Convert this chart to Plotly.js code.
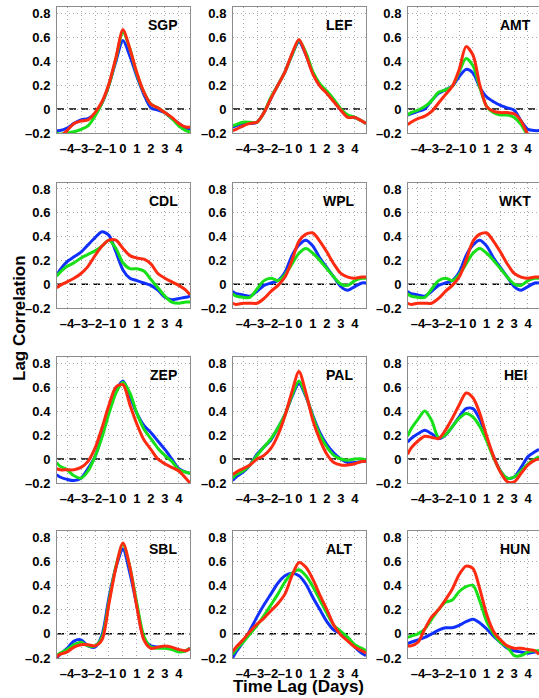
<!DOCTYPE html>
<html><head><meta charset="utf-8">
<script src="https://cdn.plot.ly/plotly-3.0.1.min.js"></script>
<style>html,body{margin:0;padding:0;background:#fff;overflow:hidden}</style>
</head><body><div id="chart" style="width:539px;height:698px"></div>
<script>
const lags = [-4.75,-4.5,-4,-3.5,-3,-2.5,-2,-1.5,-1,-0.5,0,0.5,1,1.5,2,2.5,3,3.5,4,4.5,4.8];
const stations = ["SGP","LEF","AMT","CDL","WPL","WKT","ZEP","PAL","HEI","SBL","ALT","HUN"];
const xTickVals = [-4,-3,-2,-1,0,1,2,3,4];
const xTickText = ["\u20134","\u20133","\u20132","\u20131","0","1","2","3","4"];
const yTickVals = [-0.2,0,0.2,0.4,0.6,0.8];
const yTickText = ["\u20130.2","0","0.2","0.4","0.6","0.8"];

const SGP_blue  = [-0.18,-0.18,-0.16,-0.12,-0.09,-0.08,-0.04,0.05,0.2,0.4,0.57,0.44,0.27,0.12,0.01,-0.01,-0.03,-0.08,-0.12,-0.16,-0.17];
const SGP_green = [-0.2,-0.21,-0.2,-0.19,-0.17,-0.14,-0.06,0.05,0.2,0.42,0.64,0.5,0.29,0.14,0.04,0.01,-0.03,-0.08,-0.14,-0.18,-0.19];
const SGP_red   = [-0.25,-0.23,-0.18,-0.12,-0.1,-0.09,-0.03,0.06,0.21,0.43,0.66,0.5,0.3,0.14,0.04,0.01,-0.03,-0.07,-0.12,-0.15,-0.15];

const LEF_blue  = [-0.15,-0.14,-0.12,-0.12,-0.11,-0.03,0.09,0.2,0.31,0.45,0.56,0.45,0.3,0.2,0.14,0.07,-0.01,-0.06,-0.07,-0.1,-0.12];
const LEF_green = [-0.14,-0.13,-0.11,-0.11,-0.11,-0.03,0.1,0.2,0.31,0.45,0.57,0.47,0.31,0.21,0.15,0.08,0.0,-0.05,-0.07,-0.1,-0.12];
const LEF_red   = [-0.18,-0.17,-0.14,-0.12,-0.11,-0.03,0.09,0.2,0.31,0.46,0.58,0.45,0.29,0.19,0.13,0.06,-0.01,-0.07,-0.07,-0.1,-0.12];

const AMT_blue  = [-0.05,-0.04,-0.02,0.0,0.07,0.13,0.16,0.19,0.27,0.33,0.3,0.18,0.1,0.06,0.03,0.01,-0.01,-0.1,-0.17,-0.18,-0.18];
const AMT_green = [-0.05,-0.03,-0.01,0.02,0.07,0.14,0.16,0.19,0.31,0.42,0.36,0.18,0.02,-0.03,-0.05,-0.05,-0.07,-0.13,-0.22,-0.26,-0.28];
const AMT_red   = [-0.13,-0.11,-0.08,-0.06,-0.02,0.05,0.12,0.19,0.33,0.52,0.45,0.2,0.02,-0.02,-0.03,-0.03,-0.04,-0.1,-0.21,-0.26,-0.28];

const CDL_blue  = [0.07,0.12,0.19,0.23,0.27,0.33,0.39,0.44,0.41,0.27,0.12,0.05,0.03,0.01,-0.01,-0.05,-0.11,-0.13,-0.12,-0.11,-0.1];
const CDL_green = [0.07,0.1,0.15,0.18,0.22,0.25,0.28,0.32,0.37,0.3,0.18,0.13,0.13,0.11,0.04,-0.03,-0.1,-0.15,-0.16,-0.15,-0.15];
const CDL_red   = [-0.03,-0.01,0.02,0.05,0.09,0.15,0.24,0.32,0.37,0.37,0.3,0.24,0.22,0.21,0.17,0.09,0.05,0.02,-0.01,-0.05,-0.09];

const WPL_blue  = [-0.06,-0.08,-0.09,-0.1,-0.06,-0.01,0.01,0.03,0.1,0.24,0.33,0.37,0.32,0.22,0.14,0.06,-0.02,-0.05,-0.02,0.01,0.01];
const WPL_green = [-0.08,-0.1,-0.11,-0.11,-0.04,0.03,0.05,0.03,0.08,0.17,0.26,0.3,0.26,0.2,0.13,0.06,0.0,-0.01,0.03,0.05,0.05];
const WPL_red   = [-0.16,-0.17,-0.16,-0.16,-0.16,-0.12,-0.06,-0.01,0.06,0.2,0.36,0.42,0.43,0.36,0.27,0.17,0.09,0.06,0.05,0.06,0.06];

const WKT_blue  = [-0.06,-0.08,-0.09,-0.1,-0.06,-0.01,0.01,0.03,0.1,0.24,0.33,0.37,0.32,0.22,0.14,0.06,-0.02,-0.05,-0.02,0.01,0.01];
const WKT_green = [-0.08,-0.1,-0.11,-0.11,-0.04,0.03,0.05,0.03,0.08,0.17,0.26,0.3,0.26,0.2,0.13,0.06,0.0,-0.01,0.03,0.05,0.05];
const WKT_red   = [-0.16,-0.17,-0.16,-0.16,-0.16,-0.12,-0.06,-0.01,0.06,0.2,0.36,0.42,0.43,0.36,0.27,0.17,0.09,0.06,0.05,0.06,0.06];

const ZEP_blue  = [-0.13,-0.15,-0.17,-0.18,-0.16,-0.08,0.02,0.2,0.4,0.57,0.65,0.52,0.38,0.28,0.22,0.15,0.08,0.0,-0.08,-0.11,-0.12];
const ZEP_green = [-0.03,-0.06,-0.09,-0.14,-0.16,-0.1,0.02,0.18,0.38,0.55,0.64,0.55,0.38,0.25,0.17,0.09,0.03,-0.02,-0.09,-0.11,-0.12];
const ZEP_red   = [-0.08,-0.09,-0.09,-0.09,-0.07,-0.02,0.09,0.26,0.45,0.6,0.62,0.45,0.29,0.16,0.08,0.0,-0.04,-0.07,-0.1,-0.16,-0.2];

const PAL_blue  = [-0.18,-0.15,-0.11,-0.05,0.04,0.1,0.16,0.26,0.37,0.52,0.63,0.52,0.36,0.22,0.12,0.05,0.0,-0.03,-0.03,-0.02,-0.02];
const PAL_green = [-0.16,-0.13,-0.1,-0.05,0.03,0.1,0.17,0.26,0.37,0.53,0.65,0.53,0.35,0.2,0.1,0.03,0.0,-0.01,0.0,0.0,-0.01];
const PAL_red   = [-0.13,-0.11,-0.08,-0.05,0.0,0.03,0.09,0.2,0.36,0.56,0.73,0.55,0.32,0.16,0.04,-0.03,-0.05,-0.05,-0.04,-0.02,-0.02];

const HEI_blue  = [0.14,0.17,0.21,0.24,0.21,0.17,0.2,0.27,0.35,0.42,0.42,0.33,0.17,0.02,-0.1,-0.16,-0.15,-0.07,0.02,0.06,0.08];
const HEI_green = [0.19,0.25,0.33,0.4,0.32,0.18,0.2,0.27,0.34,0.38,0.35,0.27,0.15,0.01,-0.1,-0.16,-0.15,-0.1,-0.04,0.0,0.02];
const HEI_red   = [0.04,0.09,0.15,0.19,0.18,0.17,0.24,0.34,0.45,0.55,0.51,0.38,0.19,0.02,-0.11,-0.19,-0.19,-0.12,-0.05,-0.01,0.0];

const SBL_blue  = [-0.2,-0.17,-0.12,-0.06,-0.05,-0.1,-0.11,-0.01,0.3,0.55,0.7,0.5,0.23,-0.04,-0.1,-0.11,-0.11,-0.12,-0.14,-0.14,-0.12];
const SBL_green = [-0.18,-0.16,-0.13,-0.09,-0.07,-0.1,-0.1,-0.03,0.27,0.56,0.74,0.55,0.25,-0.02,-0.11,-0.12,-0.12,-0.13,-0.15,-0.14,-0.12];
const SBL_red   = [-0.19,-0.17,-0.15,-0.11,-0.09,-0.09,-0.1,-0.05,0.25,0.55,0.75,0.55,0.22,-0.05,-0.12,-0.11,-0.1,-0.11,-0.13,-0.14,-0.12];

const ALT_blue  = [-0.2,-0.15,-0.07,0.03,0.14,0.24,0.33,0.42,0.48,0.5,0.48,0.41,0.3,0.2,0.1,0.03,0.0,-0.05,-0.11,-0.16,-0.18];
const ALT_green = [-0.17,-0.13,-0.07,0.0,0.07,0.15,0.24,0.33,0.43,0.5,0.53,0.48,0.39,0.28,0.17,0.07,0.02,-0.03,-0.09,-0.12,-0.14];
const ALT_red   = [-0.15,-0.11,-0.05,0.02,0.08,0.13,0.19,0.25,0.33,0.48,0.59,0.55,0.45,0.32,0.2,0.07,-0.01,-0.06,-0.11,-0.14,-0.16];

const HUN_blue  = [-0.08,-0.07,-0.05,-0.03,0.0,0.03,0.05,0.05,0.07,0.1,0.12,0.09,0.04,-0.02,-0.07,-0.12,-0.14,-0.15,-0.16,-0.15,-0.15];
const HUN_green = [-0.03,-0.02,0.0,0.04,0.12,0.2,0.26,0.28,0.35,0.39,0.4,0.27,0.1,0.0,-0.07,-0.11,-0.18,-0.18,-0.15,-0.14,-0.14];
const HUN_red   = [-0.1,-0.1,-0.07,0.04,0.14,0.2,0.28,0.37,0.49,0.56,0.54,0.37,0.16,0.02,-0.05,-0.1,-0.12,-0.12,-0.13,-0.14,-0.17];

const series = {
  SGP:[SGP_blue,SGP_green,SGP_red], LEF:[LEF_blue,LEF_green,LEF_red], AMT:[AMT_blue,AMT_green,AMT_red],
  CDL:[CDL_blue,CDL_green,CDL_red], WPL:[WPL_blue,WPL_green,WPL_red], WKT:[WKT_blue,WKT_green,WKT_red],
  ZEP:[ZEP_blue,ZEP_green,ZEP_red], PAL:[PAL_blue,PAL_green,PAL_red], HEI:[HEI_blue,HEI_green,HEI_red],
  SBL:[SBL_blue,SBL_green,SBL_red], ALT:[ALT_blue,ALT_green,ALT_red], HUN:[HUN_blue,HUN_green,HUN_red]
};
const colors = ["#1030ff","#18e018","#ff2a10"];

const W = 539, H = 698;
const colPx = [[57,190],[233,366],[408,539]];
const rowPx = [[7,133],[183,308],[357,483],[531,658]];
const font = {family:"Liberation Sans, Arial, sans-serif", size:13, color:"#000", weight:"bold"};

const data = [];
const layout = {
  width:W, height:H, margin:{l:0,r:0,t:0,b:0},
  paper_bgcolor:"#fff", plot_bgcolor:"#fff", showlegend:false,
  font: font, shapes:[], annotations:[]
};
stations.forEach((st, i) => {
  const r = Math.floor(i/3), c = i%3;
  const n = i+1, xa = "x"+(n===1?"":n), ya = "y"+(n===1?"":n);
  const xk = "xaxis"+(n===1?"":n), yk = "yaxis"+(n===1?"":n);
  layout[xk] = {
    domain:[colPx[c][0]/W, colPx[c][1]/W], anchor:ya, range:[-4.72,4.8],
    tickvals:xTickVals, ticktext:xTickText, ticks:"", tickangle:0, ticklabelstandoff:3,
    showgrid:true, gridcolor:"#a8a8a8", griddash:"1px,3px", gridwidth:1,
    zeroline:false, showline:true, mirror:true, linecolor:"#8c8c8c", linewidth:1,
    tickfont:font, fixedrange:true
  };
  layout[yk] = {
    domain:[1-rowPx[r][1]/H, 1-rowPx[r][0]/H], anchor:xa, range:[-0.2,0.85],
    tickvals:yTickVals, ticktext:yTickText, ticks:"", ticklabelstandoff:3,
    showgrid:true, gridcolor:"#a8a8a8", griddash:"1px,3px", gridwidth:1,
    zeroline:false, showline:true, mirror:true, linecolor:"#8c8c8c", linewidth:1,
    tickfont:font, fixedrange:true
  };
  layout.shapes.push({type:"line", xref:xa+" domain", yref:ya, x0:0, x1:1, y0:0, y1:0,
    line:{color:"#000", width:1.5, dash:"7px,5px"}, layer:"below"});
  layout.annotations.push({text:st, xref:xa+" domain", yref:ya+" domain",
    x:(c===2?0.82:0.8), y:0.855, xanchor:"center", yanchor:"middle", showarrow:false,
    font:{family:font.family, size:14, color:"#000", weight:"bold"}});
  series[st].forEach((ys, k) => {
    data.push({x:lags, y:ys, xaxis:xa, yaxis:ya, type:"scatter", mode:"lines",
      line:{color:colors[k], width:3, shape:"spline", smoothing:0.8}, hoverinfo:"skip"});
  });
});
layout.annotations.push({text:"Lag Correlation", xref:"paper", yref:"paper", x:19/W, y:1-318/H,
  textangle:-90, showarrow:false, xanchor:"center", yanchor:"middle",
  font:{family:font.family, size:17, color:"#000", weight:"bold"}});
layout.annotations.push({text:"Time Lag (Days)", xref:"paper", yref:"paper", x:298/W, y:1-686/H,
  showarrow:false, xanchor:"center", yanchor:"middle",
  font:{family:font.family, size:17, color:"#000", weight:"bold"}});

Plotly.newPlot("chart", data, layout, {staticPlot:true, displayModeBar:false});
</script></body></html>
